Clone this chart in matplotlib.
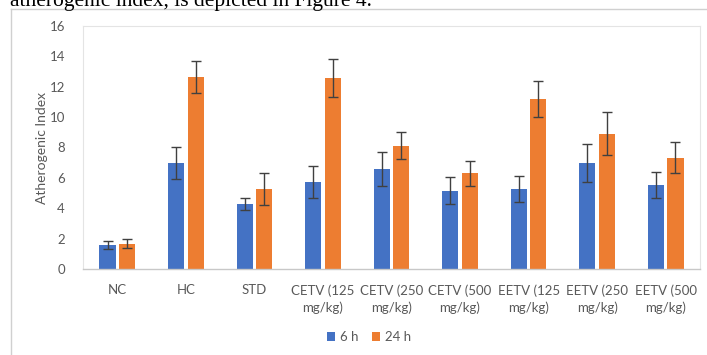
import matplotlib
matplotlib.use("Agg")
import matplotlib.pyplot as plt
from matplotlib.lines import Line2D
import numpy as np

# Atherogenic index, 6 h vs 24 h
groups = ["NC", "HC", "STD", "CETV (125\nmg/kg)", "CETV (250\nmg/kg)",
          "CETV (500\nmg/kg)", "EETV (125\nmg/kg)", "EETV (250\nmg/kg)",
          "EETV (500\nmg/kg)"]
ai_6h = [1.58, 6.98, 4.28, 5.73, 6.58, 5.16, 5.25, 7.0, 5.55]
err_6h = [0.28, 1.05, 0.37, 1.05, 1.1, 0.88, 0.85, 1.25, 0.85]
ai_24h = [1.67, 12.64, 5.25, 12.55, 8.12, 6.3, 11.21, 8.91, 7.33]
err_24h = [0.28, 1.07, 1.04, 1.25, 0.9, 0.83, 1.18, 1.4, 1.0]
series = ["6 h", "24 h"]

W, H = 707, 355
fig = plt.figure(figsize=(W / 100, H / 100), dpi=100)
plt.rcParams["font.family"] = ["Lato", "DejaVu Sans"]

# cut-off sentence from the page above the chart
fig.text(10 / W, 1 - 6 / H, "atherogenic index, is depicted in Figure 4.",
         family="Liberation Serif", fontsize=15.5, va="baseline", ha="left")

# chart area border
fig.add_artist(Line2D([11 / W, 1.0], [1 - 8.5 / H, 1 - 8.5 / H],
                      transform=fig.transFigure, color="#d0d0d0", lw=1))
fig.add_artist(Line2D([11 / W, 11 / W], [0, 1 - 8.5 / H],
                      transform=fig.transFigure, color="#d0d0d0", lw=1))

ax = fig.add_axes([83 / W, 1 - 269 / H, (700 - 83) / W, (269 - 26) / H])

x = np.arange(len(groups))
bw = 0.235
off = 0.142
ekw = dict(ecolor="#404040", elinewidth=1, capsize=3.5, capthick=1)
ax.bar(x - off, ai_6h, bw, yerr=err_6h, color="#4472C4", label=series[0],
       error_kw=ekw)
ax.bar(x + off, ai_24h, bw, yerr=err_24h, color="#ED7D31", label=series[1],
       error_kw=ekw)

ax.set_xlim(-0.5, len(groups) - 0.5)
ax.set_ylim(0, 16)
ax.set_yticks(range(0, 17, 2))
ax.set_xticks(x)
ax.set_xticklabels(groups, linespacing=1.45)
ax.tick_params(axis="both", length=0, colors="#595959", labelsize=9.5)
ax.tick_params(axis="x", pad=11)
ax.tick_params(axis="y", pad=13)

for s in ["top", "right", "left"]:
    ax.spines[s].set_color("#e4e4e4")
    ax.spines[s].set_linewidth(0.8)
ax.spines["bottom"].set_color("#c8c8c8")
ax.spines["bottom"].set_linewidth(1)

ax.set_ylabel("Atherogenic Index", color="#595959", fontsize=10)
ax.yaxis.set_label_coords(-35 / (700 - 83), 0.5)

fig.legend(loc="center", bbox_to_anchor=(369 / W, 1 - 337 / H), ncol=2,
           frameon=False, fontsize=9.5, handlelength=0.6, handleheight=0.6,
           handletextpad=0.4, columnspacing=1.0, labelcolor="#595959")

fig.savefig("out.png", dpi=100, facecolor="white")
